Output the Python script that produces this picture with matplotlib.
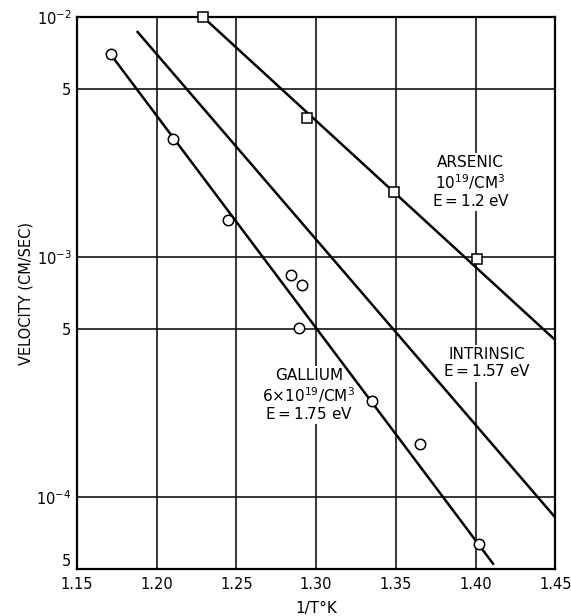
import matplotlib
matplotlib.use("Agg")
import matplotlib.pyplot as plt
from matplotlib.ticker import FixedLocator, FixedFormatter

# Data
arsenic_x = [1.229, 1.294, 1.349, 1.401]
arsenic_v = [1.0e-2, 3.8e-3, 1.87e-3, 9.8e-4]
arsenic_line_x = [1.229, 1.45]
arsenic_line_v = [1.0e-2, 4.5e-4]

gallium_x = [1.171, 1.210, 1.245, 1.284, 1.291, 1.289, 1.335, 1.365, 1.402]
gallium_v = [7.0e-3, 3.1e-3, 1.43e-3, 8.4e-4, 7.6e-4, 5.06e-4, 2.5e-4, 1.66e-4, 6.37e-5]
gallium_line_x = [1.171, 1.411]
gallium_line_v = [7.0e-3, 5.26e-5]

intrinsic_line_x = [1.188, 1.45]
intrinsic_line_v = [8.66e-3, 8.2e-5]

xticks = [1.15, 1.20, 1.25, 1.30, 1.35, 1.40, 1.45]
xticklabels = ["1.15", "1.20", "1.25", "1.30", "1.35", "1.40", "1.45"]
yticks = [1e-2, 5e-3, 1e-3, 5e-4, 1e-4, 5e-5]
yticklabels = [r"$10^{-2}$", "5", r"$10^{-3}$", "5", r"$10^{-4}$", "5"]

plt.rcParams['font.family'] = ['DejaVu Sans']

fig = plt.figure(figsize=(5.71, 6.16), dpi=100)
ax = fig.add_axes([0.1349, 0.0763, 0.8375, 0.8961])
ax.set_yscale('log')
ax.set_xlim(1.15, 1.45)
ax.set_ylim(5e-5, 1e-2)

# grid
for gx in xticks[1:-1]:
    ax.axvline(gx, color='black', lw=1.1, zorder=1)
for gy in yticks[1:-1]:
    ax.axhline(gy, color='black', lw=1.1, zorder=1)

ax.plot(arsenic_line_x, arsenic_line_v, color='black', lw=1.8, zorder=3)
ax.plot(gallium_line_x, gallium_line_v, color='black', lw=1.8, zorder=3)
ax.plot(intrinsic_line_x, intrinsic_line_v, color='black', lw=1.8, zorder=3)

ax.plot(arsenic_x, arsenic_v, 's', ms=7, mfc='white', mec='black', mew=1.1, zorder=4, clip_on=False)
ax.plot(gallium_x, gallium_v, 'o', ms=7.5, mfc='white', mec='black', mew=1.1, zorder=4, clip_on=False)

ax.xaxis.set_major_locator(FixedLocator(xticks))
ax.xaxis.set_major_formatter(FixedFormatter(xticklabels))
ax.yaxis.set_major_locator(FixedLocator(yticks))
ax.yaxis.set_major_formatter(FixedFormatter(yticklabels))
ax.yaxis.set_minor_locator(FixedLocator([]))
ax.tick_params(axis='both', length=0, labelsize=10.5)
ax.tick_params(axis='x', pad=6)
ax.tick_params(axis='y', pad=4)
for s in ax.spines.values():
    s.set_linewidth(1.6)

# bottom "5" label sits just above the axis bottom
ax.get_yticklabels()[-1].set_va('bottom')

ax.set_xlabel("1/T°K", fontsize=11, labelpad=6)
ax.set_ylabel("VELOCITY (CM/SEC)", fontsize=10.5, labelpad=2)

bbox = dict(facecolor='white', edgecolor='none', pad=1.5)
ax.text(1.397, 2.05e-3, "ARSENIC\n$10^{19}$/CM$^3$\nE$=$1.2 eV", ha='center', va='center',
        fontsize=11, linespacing=1.1, bbox=bbox, zorder=2)
ax.text(1.407, 3.6e-4, "INTRINSIC\nE$=$1.57 eV", ha='center', va='center',
        fontsize=11, linespacing=1.1, bbox=bbox, zorder=2)
ax.text(1.2955, 2.65e-4, "GALLIUM\n6$\\times$$10^{19}$/CM$^3$\nE$=$1.75 eV", ha='center', va='center',
        fontsize=11, linespacing=1.1, bbox=bbox, zorder=2)

fig.savefig("out.png", dpi=100)
